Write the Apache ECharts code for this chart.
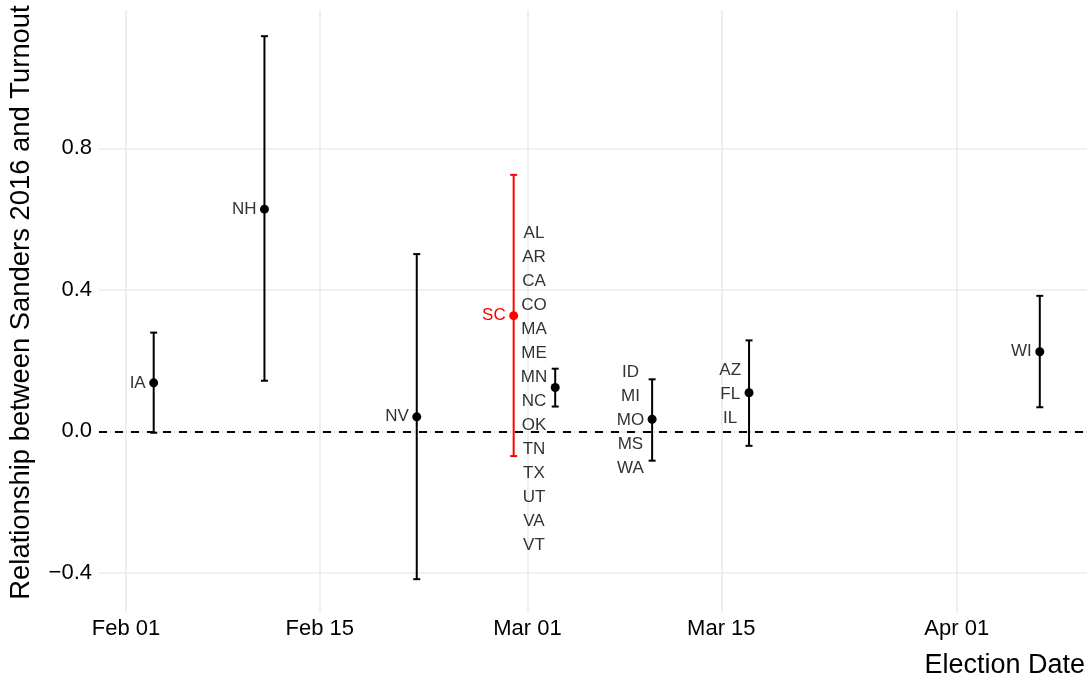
<!DOCTYPE html>
<html>
<head>
<meta charset="utf-8">
<script src="https://cdn.jsdelivr.net/npm/echarts@6/dist/echarts.min.js"></script>
<style>
  html, body { margin: 0; padding: 0; background: #fff; }
  #chart { width: 1089px; height: 678px; }
</style>
</head>
<body>
<div id="chart"></div>
<script>
// ---- data ----
const dates     = ['2016-02-03', '2016-02-11', '2016-02-22', '2016-02-29', '2016-03-03', '2016-03-10', '2016-03-17', '2016-04-07'];
const estimates = [0.137, 0.628, 0.041, 0.327, 0.124, 0.034, 0.109, 0.225];
const lower     = [-0.004, 0.143, -0.418, -0.070, 0.070, -0.083, -0.041, 0.068];
const upper     = [0.279, 1.117, 0.501, 0.725, 0.177, 0.147, 0.257, 0.383];
const stateGroups = [
  ['IA'],
  ['NH'],
  ['NV'],
  ['SC'],
  ['AL', 'AR', 'CA', 'CO', 'MA', 'ME', 'MN', 'NC', 'OK', 'TN', 'TX', 'UT', 'VA', 'VT'],
  ['ID', 'MI', 'MO', 'MS', 'WA'],
  ['AZ', 'FL', 'IL'],
  ['WI']
];
const highlightState = 'SC';
const xTickDates = ['2016-02-01', '2016-02-15', '2016-03-01', '2016-03-15', '2016-04-01'];
const yTicks = [-0.4, 0, 0.4, 0.8];
const xTitle = 'Election Date';
const yTitle = 'Relationship between Sanders 2016 and Turnout';

// ---- helpers ----
const DAY = 86400000;
function toUTC(s) { const p = s.split('-').map(Number); return Date.UTC(p[0], p[1] - 1, p[2]); }
const MONTHS = ['Jan','Feb','Mar','Apr','May','Jun','Jul','Aug','Sep','Oct','Nov','Dec'];
const FONT = '"Liberation Sans", Arial, Helvetica, sans-serif';
const LABEL_SIZE = 17;
const measureCtx = document.createElement('canvas').getContext('2d');
measureCtx.font = LABEL_SIZE + 'px ' + FONT;

const base = toUTC(xTickDates[0]);
const xMin = base - 1.95 * DAY;
const xMax = base + 69.41 * DAY;
const yMin = -0.5136;
const yMax = 1.191;

const isHi = stateGroups.map(g => g.indexOf(highlightState) >= 0);
const colorOf = i => isHi[i] ? '#ff0000' : '#000000';

const barData = dates.map((d, i) => [toUTC(d), lower[i], upper[i]]);
const pointData = dates.map((d, i) => ({ value: [toUTC(d), estimates[i]], itemStyle: { color: colorOf(i), opacity: 1 } }));
const labelData = dates.map((d, i) => [toUTC(d), estimates[i]]);

const chart = echarts.init(document.getElementById('chart'), null, { renderer: 'canvas' });

chart.setOption({
  animation: false,
  backgroundColor: '#ffffff',
  grid: { left: 99, right: 2, top: 10, bottom: 65, outerBoundsMode: 'none', containLabel: false },
  xAxis: {
    type: 'value',
    min: xMin,
    max: xMax,
    scale: true,
    name: xTitle,
    nameLocation: 'end',
    nameGap: -2,
    nameTextStyle: { fontFamily: FONT, fontSize: 27, color: '#000', align: 'right', verticalAlign: 'top', padding: [39, 0, 0, 0] },
    axisLine: { show: false, onZero: false },
    axisTick: { show: false, customValues: xTickDates.map(toUTC) },
    axisLabel: {
      customValues: xTickDates.map(toUTC),
      fontFamily: FONT, fontSize: 22, color: '#000', margin: 5,
      showMinLabel: true, showMaxLabel: true,
      formatter: function (v) {
        const d = new Date(v);
        return MONTHS[d.getUTCMonth()] + ' ' + String(d.getUTCDate()).padStart(2, '0');
      }
    },
    splitLine: { show: true, lineStyle: { color: '#ebebeb', width: 1.6 } }
  },
  yAxis: {
    type: 'value',
    min: yMin,
    max: yMax,
    name: yTitle,
    nameLocation: 'middle',
    nameRotate: 90,
    nameGap: 64,
    nameTextStyle: { fontFamily: FONT, fontSize: 27.4, color: '#000', padding: [0, 0, 0, 18] },
    axisLine: { show: false, onZero: false },
    axisTick: { show: false, customValues: yTicks },
    axisLabel: {
      customValues: yTicks,
      fontFamily: FONT, fontSize: 22, color: '#000', margin: 7,
      formatter: function (v) {
        const a = Math.abs(v).toFixed(1);
        return v < 0 ? '\u2212' + a : a;
      }
    },
    splitLine: { show: true, lineStyle: { color: '#ebebeb', width: 1.6 } }
  },
  series: [
    {
      type: 'custom',
      name: 'interval',
      data: barData,
      encode: { x: 0, y: [1, 2] },
      z: 3,
      markLine: {
        silent: true,
        symbol: ['none', 'none'],
        label: { show: false },
        lineStyle: { color: '#000', width: 2, type: [8, 8] },
        data: [{ yAxis: 0 }]
      },
      renderItem: function (params, api) {
        const i = params.dataIndex;
        const x = api.value(0);
        const lo = api.coord([x, api.value(1)]);
        const hi = api.coord([x, api.value(2)]);
        const col = colorOf(i);
        const cap = 3.5;
        const style = { stroke: col, lineWidth: 2 };
        return {
          type: 'group',
          children: [
            { type: 'line', shape: { x1: lo[0], y1: lo[1], x2: hi[0], y2: hi[1] }, style: style },
            { type: 'line', shape: { x1: lo[0] - cap, y1: lo[1], x2: lo[0] + cap, y2: lo[1] }, style: style },
            { type: 'line', shape: { x1: hi[0] - cap, y1: hi[1], x2: hi[0] + cap, y2: hi[1] }, style: style }
          ]
        };
      }
    },
    {
      type: 'scatter',
      name: 'estimate',
      data: pointData,
      symbol: 'circle',
      symbolSize: 9,
      itemStyle: { opacity: 1 },
      z: 4
    },
    {
      type: 'custom',
      name: 'states',
      data: labelData,
      encode: { x: 0, y: 1 },
      z: 5,
      renderItem: function (params, api) {
        const i = params.dataIndex;
        const p = api.coord([api.value(0), api.value(1)]);
        const g = stateGroups[i];
        let maxW = 0;
        g.forEach(s => { maxW = Math.max(maxW, measureCtx.measureText(s).width); });
        const cx = p[0] - 8 - maxW / 2;
        return {
          type: 'text',
          x: cx,
          y: p[1] + (g.length > 1 ? 1.5 : 0),
          style: {
            text: g.join('\n'),
            fill: isHi[i] ? '#ff0000' : '#333333',
            font: LABEL_SIZE + 'px ' + FONT,
            align: 'center',
            verticalAlign: 'middle',
            lineHeight: 24
          }
        };
      }
    }
  ]
});
</script>
</body>
</html>
